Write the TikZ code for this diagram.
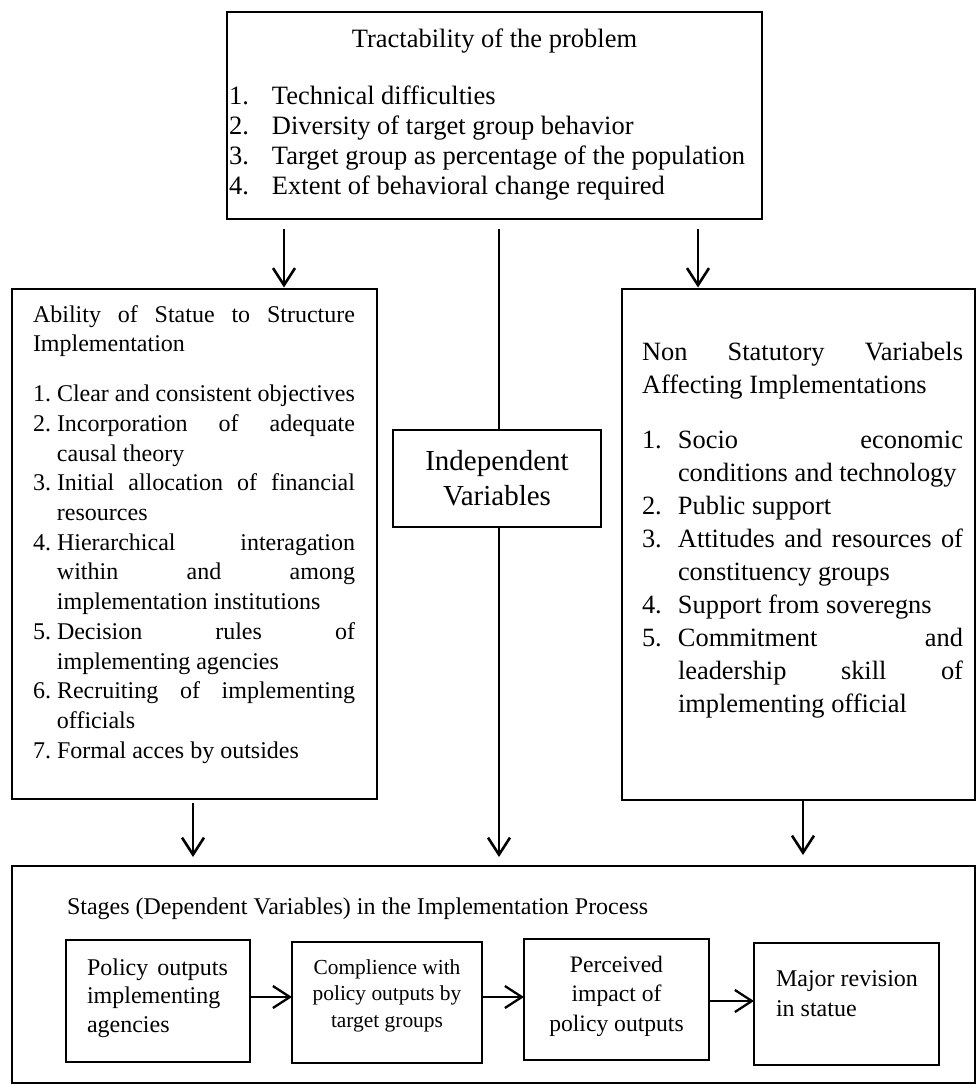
\documentclass[tikz,border=0pt]{standalone}
\usepackage{fontspec}
\setmainfont{Liberation Serif}
\usetikzlibrary{arrows.meta}

% numbered entry with hanging indent
\newcommand{\numitem}[2]{\par\hangindent=#1\hangafter=1\noindent\makebox[#1][l]{#2}}
\newcommand{\parsetup}{\tolerance=10000\hbadness=10000\hyphenpenalty=10000\exhyphenpenalty=10000}

\tikzset{
  box/.style={draw, line width=2.2pt, inner sep=0pt, outer sep=0pt},
  conn/.style={line width=2.6pt, -{Straight Barb[length=17pt,width=22pt]}},
  plainline/.style={line width=2.6pt},
  txt/.style={inner sep=0pt, outer sep=0pt, anchor=base west},
  ctxt/.style={inner sep=0pt, outer sep=0pt, anchor=base},
}

\begin{document}
\begin{tikzpicture}[x=1pt, y=-1pt]
\useasboundingbox (0,0) rectangle (977,1084);

% frames
\node[box, minimum width=535pt, minimum height=207pt] (top) at (494.5,115.5) {};
\node[box, minimum width=365pt, minimum height=510pt] (ability) at (194.5,544) {};
\node[box, minimum width=353pt, minimum height=511pt] (nonstat) at (798.5,544.5) {};
\node[box, minimum width=208pt, minimum height=97pt, align=center,
      font=\fontsize{29}{35}\selectfont] (indep) at (497,478.5) {Independent\\Variables};
\node[box, minimum width=963pt, minimum height=217pt] (stages) at (493.5,974.5) {};
\node[box, minimum width=184pt, minimum height=122pt] (b1) at (158,1001) {};
\node[box, minimum width=190pt, minimum height=121pt] (b2) at (387,1002.5) {};
\node[box, minimum width=185pt, minimum height=121pt] (b3) at (616.5,999.5) {};
\node[box, minimum width=185pt, minimum height=122pt] (b4) at (846.5,1004) {};

% top box text
\begin{scope}[font=\fontsize{26.5}{30}\selectfont]
\node[ctxt] (toptitle) at (494.5,47) {Tractability of the problem};
\node[txt] (t1) at (229,104) {\makebox[43pt][l]{1.}Technical difficulties};
\node[txt] (t2) at (229,134) {\makebox[43pt][l]{2.}Diversity of target group behavior};
\node[txt] (t3) at (229,164) {\makebox[43pt][l]{3.}Target group as percentage of the population};
\node[txt] (t4) at (229,194) {\makebox[43pt][l]{4.}Extent of behavioral change required};
\end{scope}

% left box text
\node[txt] (abilitytext) at (33,322) {\parbox[t]{322pt}{\fontsize{24}{29.7}\selectfont\parsetup
Ability of Statue to Structure\linebreak Implementation\par
\vspace{20.3pt}
\numitem{24pt}{1.}Clear and consistent objectives
\numitem{24pt}{2.}Incorporation of adequate\linebreak causal theory
\numitem{24pt}{3.}Initial allocation of financial\linebreak resources
\numitem{24pt}{4.}Hierarchical interagation\linebreak within and among\linebreak implementation institutions
\numitem{24pt}{5.}Decision rules of\linebreak implementing agencies
\numitem{24pt}{6.}Recruiting of implementing\linebreak officials
\numitem{24pt}{7.}Formal acces by outsides\par}};

% right box text
\node[txt] (nonstattext) at (642,360) {\parbox[t]{321pt}{\fontsize{26.4}{33}\selectfont\parsetup
Non Statutory Variabels\linebreak Affecting Implementations\par
\vspace{22pt}
\numitem{36pt}{1.}Socio economic\linebreak conditions and technology
\numitem{36pt}{2.}Public support
\numitem{36pt}{3.}Attitudes and resources of\linebreak constituency groups
\numitem{36pt}{4.}Support from soveregns
\numitem{36pt}{5.}Commitment and\linebreak leadership skill of\linebreak implementing official\par}};

% bottom box text
\node[txt, font=\fontsize{24}{29}\selectfont] (stagestitle) at (67,914)
  {Stages (Dependent Variables) in the Implementation Process};
\node[txt] (b1text) at (87,975) {\parbox[t]{141pt}{\fontsize{24}{28.5}\selectfont\parsetup
Policy outputs\linebreak implementing\\agencies}};
\node[ctxt] (b2text) at (387,974) {\parbox[t]{186pt}{\fontsize{21.4}{26.5}\selectfont\centering
Complience with\\policy outputs by\\target groups}};
\node[ctxt] (b3text) at (616.5,972) {\parbox[t]{183pt}{\fontsize{23.6}{29.5}\selectfont\centering
Perceived\\impact of\\policy outputs}};
\node[txt] (b4text) at (776,986) {\parbox[t]{160pt}{\fontsize{24}{30}\selectfont\raggedright
Major revision\\in statue}};

% connector columns and rows
\coordinate (cL) at (284,0);
\coordinate (cM) at (499,0);
\coordinate (cR) at (698,0);
\coordinate (cBL) at (193,0);
\coordinate (cBR) at (803,0);
\coordinate (r1) at (0,997);
\coordinate (r2) at (0,1001);

% connectors from the problem box
\draw[conn, shorten >=1.5pt] ([yshift=-10pt]top.south -| cL) -- (ability.north -| cL);
\draw[conn, shorten >=1.5pt] ([yshift=-10pt]top.south -| cR) -- (nonstat.north -| cR);
\draw[plainline] ([yshift=-10pt]top.south -| cM) -- (indep.north -| cM);

% connectors into the stages box
\draw[conn] (indep.south -| cM) -- ([yshift=9pt]stages.north -| cM);
\draw[conn] ([yshift=-4pt]ability.south -| cBL) -- ([yshift=9pt]stages.north -| cBL);
\draw[conn] (nonstat.south -| cBR) -- ([yshift=11pt]stages.north -| cBR);

% stage sequence
\draw[conn, line width=2.3pt] (b1.east |- r1) -- (b2.west |- r1);
\draw[conn, line width=2.3pt] (b2.east |- r1) -- (b3.west |- r1);
\draw[conn, line width=2.3pt] (b3.east |- r2) -- (b4.west |- r2);
\end{tikzpicture}
\end{document}
